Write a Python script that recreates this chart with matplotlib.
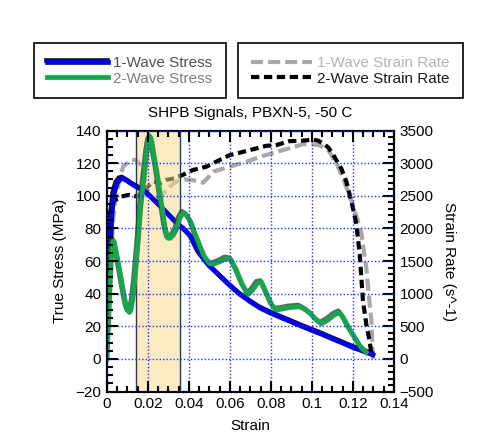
import numpy as np
import matplotlib
matplotlib.use('Agg')
import matplotlib.pyplot as plt
import matplotlib.patheffects as pe
from matplotlib.ticker import MultipleLocator

plt.rcParams['font.family'] = ['Liberation Sans', 'DejaVu Sans']
plt.rcParams['font.size'] = 11

# 1-wave stress (MPa)
s1_strain = [0, 0.0007, 0.0015, 0.0025, 0.0035, 0.005, 0.0065, 0.008, 0.01, 0.013, 0.0165,
             0.02, 0.025, 0.03, 0.035, 0.038, 0.041, 0.045, 0.05, 0.055, 0.06, 0.065, 0.07,
             0.075, 0.08, 0.085, 0.09, 0.095, 0.1, 0.105, 0.11, 0.115, 0.12, 0.125, 0.1298]
s1_stress = [0, 30, 60, 88, 101, 107.5, 110, 110.5, 109, 106.5, 104,
             101, 95, 88.5, 82, 79, 75, 65, 57, 51, 45, 39.5, 35,
             31, 28, 25.3, 22.7, 20, 17.5, 15, 12.3, 9.7, 7, 4.7, 2.5]

# 2-wave stress (MPa)
s2_strain = [0, 0.0008, 0.0016, 0.0024, 0.003, 0.0036, 0.0044, 0.0055, 0.0065, 0.0076, 0.0086,
             0.0096, 0.0105, 0.0111, 0.0118, 0.0126, 0.0135, 0.0143, 0.0155, 0.0165, 0.0175,
             0.0184, 0.0195, 0.0205, 0.0213, 0.022, 0.023, 0.024, 0.0249, 0.026, 0.0273,
             0.0285, 0.0298, 0.031, 0.0325, 0.0338, 0.0355, 0.0372, 0.039, 0.041, 0.043,
             0.0452, 0.0475, 0.05, 0.052, 0.055, 0.058, 0.0605, 0.063, 0.066, 0.0688, 0.071,
             0.0735, 0.0755, 0.078, 0.0805, 0.0826, 0.085, 0.089, 0.094, 0.097, 0.0995,
             0.102, 0.1046, 0.108, 0.111, 0.1135, 0.1155, 0.118, 0.121, 0.124, 0.1265]
s2_stress = [0, 20, 45, 65, 72, 72, 67, 60, 53, 45, 38,
             32, 29, 28.5, 30, 36, 46, 57, 75, 92, 104,
             113, 126, 134, 136, 133, 125, 118, 111, 101, 90,
             80, 74, 74, 76, 79, 86, 89.5, 88, 84, 77,
             70, 63, 58.5, 58, 59.5, 61.5, 61, 55, 46, 39.5, 42,
             46.5, 47, 40, 33, 30, 30.5, 31.5, 32, 30, 27.5,
             24, 21.5, 24, 27, 28.5, 25, 19, 13, 7, 4]

# 1-wave strain rate (1/s)
r1_strain = [0, 0.001, 0.002, 0.003, 0.004, 0.005, 0.006, 0.008, 0.01, 0.012, 0.014, 0.016,
             0.018, 0.02, 0.022, 0.025, 0.028, 0.031, 0.034, 0.038, 0.042, 0.047, 0.052,
             0.058, 0.068, 0.075, 0.0875, 0.0956, 0.1, 0.104, 0.108, 0.1124, 0.116, 0.12,
             0.124, 0.1265, 0.128, 0.129, 0.1298]
r1_rate = [0, 700, 1500, 2100, 2400, 2550, 2750, 2950, 3000, 3050, 3050, 3000,
           2800, 2550, 2450, 2480, 2550, 2650, 2720, 2750, 2740, 2700, 2870,
           2930, 3020, 3100, 3215, 3290, 3290, 3270, 3200, 2970, 2700, 2360,
           1950, 1400, 890, 580, -30]

# 2-wave strain rate (1/s)
r2_strain = [0, 0.0005, 0.0013, 0.003, 0.007, 0.011, 0.015, 0.0184, 0.0225, 0.026, 0.029,
             0.033, 0.037, 0.042, 0.0485, 0.055, 0.06, 0.0647, 0.0729, 0.0778, 0.0826,
             0.089, 0.0956, 0.1005, 0.103, 0.1055, 0.108, 0.110, 0.112, 0.1143, 0.1168,
             0.1184, 0.12, 0.1217, 0.1233, 0.1241, 0.1249, 0.1265, 0.1281, 0.129]
r2_rate = [0, 900, 2184, 2413, 2489, 2515, 2489, 2591, 2718, 2690, 2743,
           2769, 2820, 2896, 2946, 3048, 3124, 3160, 3226, 3266, 3277,
           3337, 3345, 3360, 3345, 3300, 3240, 3150, 3040, 2920, 2717,
           2515, 2312, 2057, 1600, 1245, 889, 533, 279, 76]

shade = [0.0140, 0.0357]

fig = plt.figure(figsize=(4.9, 4.44), dpi=100)
ax = fig.add_axes([0.218, 0.118, 0.586, 0.588])
ax2 = ax.twinx()
ax.set_zorder(ax2.get_zorder() + 1)
ax.patch.set_visible(False)

# strain rates on right axis
g1, = ax2.plot(r1_strain, r1_rate, color='#A8A8A8', lw=3, dashes=(2.9, 1.2),
               label='1-Wave Strain Rate')
g2, = ax2.plot(r2_strain, r2_rate, color='black', lw=3, dashes=(2.0, 1.1),
               label='2-Wave Strain Rate')
ax2.axvspan(shade[0], shade[1], facecolor='#F8D990', alpha=0.55, zorder=5,
            edgecolor='none')
for xv in shade:
    ax2.axvline(xv, color='#1F3864', lw=1, zorder=6)

# stresses on left axis
b1, = ax.plot(s1_strain, s1_stress, color='#0000EE', lw=3.4, label='1-Wave Stress',
              solid_joinstyle='round',
              path_effects=[pe.SimpleLineShadow(offset=(-1, 1.2), shadow_color='black', alpha=0.9),
                            pe.Normal()])
b2, = ax.plot(s2_strain, s2_stress, color='#13A84A', lw=3.4, label='2-Wave Stress',
              solid_joinstyle='round',
              path_effects=[pe.SimpleLineShadow(offset=(-1, 1.2), shadow_color='#404040', alpha=0.8),
                            pe.Normal()])

ax.set_xlim(0, 0.14)
ax.set_ylim(-20, 140)
ax2.set_ylim(-500, 3500)

ax.set_xticks(np.arange(0, 0.141, 0.02))
ax.set_xticklabels(['0', '0.02', '0.04', '0.06', '0.08', '0.1', '0.12', '0.14'])
ax.set_yticks(np.arange(-20, 141, 20))
ax2.set_yticks(np.arange(-500, 3501, 500))
ax.xaxis.set_minor_locator(MultipleLocator(0.005))
ax.yaxis.set_minor_locator(MultipleLocator(5))
ax2.yaxis.set_minor_locator(MultipleLocator(100))

ax.tick_params(which='both', direction='in', top=True, right=False, width=1.5)
ax.tick_params(which='major', length=8, pad=4)
ax.tick_params(which='minor', length=4)
ax2.tick_params(which='both', direction='in', width=1.5)
ax2.tick_params(which='major', length=8, pad=4)
ax2.tick_params(which='minor', length=4)
for a in (ax, ax2):
    for sp in a.spines.values():
        sp.set_linewidth(1.5)

ax.grid(True, which='major', color='#2233FF', lw=1, linestyle=(0, (1, 1.5)))
ax.set_axisbelow(False)

ax.set_title('SHPB Signals, PBXN-5, -50 C', fontsize=11, pad=10)
ax.set_xlabel('Strain', labelpad=6)
ax.set_ylabel('True Stress (MPa)', labelpad=6)
ax2.set_ylabel('Strain Rate (s^-1)', rotation=270, labelpad=16)

leg_kw = dict(loc='upper left', borderaxespad=0, fancybox=False, edgecolor='black',
              framealpha=1, handlelength=4.0, handletextpad=0.35, borderpad=0.85,
              labelspacing=0.1, fontsize=11)
leg1 = fig.legend(handles=[b1, b2], bbox_to_anchor=(34 / 490, 1 - 43 / 444), **leg_kw)
leg2 = fig.legend(handles=[g1, g2], bbox_to_anchor=(238 / 490, 1 - 43 / 444), **leg_kw)
for leg in (leg1, leg2):
    leg.get_frame().set_linewidth(1.2)
leg1.legend_handles[1].set_path_effects([])
for t, c in zip(leg1.get_texts() + leg2.get_texts(), ['#505050', '#7F7F7F', '#B4B4B4', '#1A1A1A']):
    t.set_color(c)

fig.savefig('out.png', dpi=100)
